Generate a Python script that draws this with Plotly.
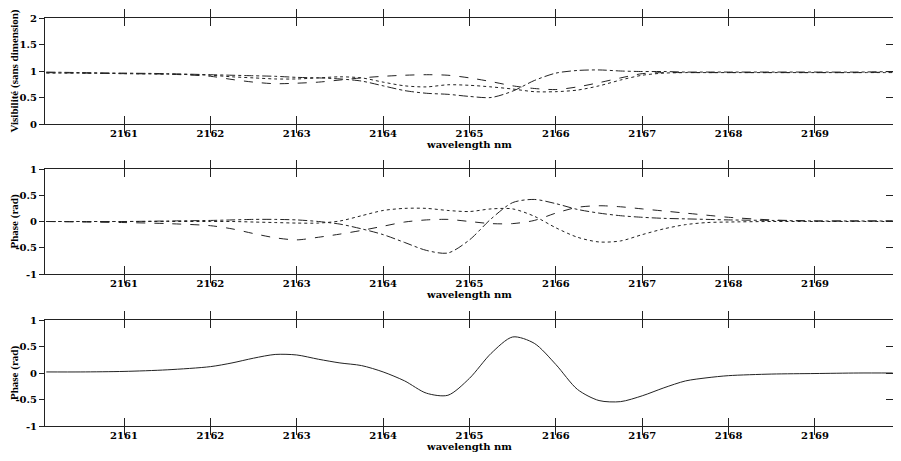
import plotly.graph_objects as go

wavelength = [2160.1, 2160.5, 2161.0, 2161.5, 2162.0, 2162.25, 2162.5, 2162.75, 2163.0, 2163.25,
              2163.5, 2163.75, 2164.0, 2164.25, 2164.5, 2164.75, 2165.0, 2165.25, 2165.5, 2165.75,
              2166.0, 2166.25, 2166.5, 2166.75, 2167.0, 2167.25, 2167.5, 2167.75, 2168.0, 2168.5,
              2169.0, 2169.5, 2169.9]

vis_dashed = [0.97, 0.96, 0.95, 0.94, 0.90, 0.84, 0.79, 0.76, 0.77, 0.79,
              0.83, 0.87, 0.90, 0.92, 0.93, 0.92, 0.87, 0.80, 0.72, 0.67,
              0.65, 0.70, 0.78, 0.87, 0.95, 0.97, 0.97, 0.97, 0.97, 0.97,
              0.97, 0.97, 0.98]
vis_dotted = [0.96, 0.96, 0.95, 0.94, 0.92, 0.89, 0.87, 0.85, 0.85, 0.87,
              0.89, 0.87, 0.79, 0.72, 0.70, 0.74, 0.73, 0.70, 0.66, 0.61,
              0.61, 0.64, 0.72, 0.83, 0.92, 0.96, 0.97, 0.97, 0.97, 0.97,
              0.97, 0.97, 0.97]
vis_dashdot = [0.98, 0.97, 0.96, 0.95, 0.93, 0.92, 0.91, 0.90, 0.88, 0.87,
               0.85, 0.81, 0.72, 0.63, 0.58, 0.56, 0.52, 0.50, 0.62, 0.82,
               0.96, 1.01, 1.02, 1.00, 0.99, 0.99, 0.98, 0.98, 0.98, 0.98,
               0.98, 0.98, 0.99]

ph_dashed = [0.0, -0.01, -0.02, -0.04, -0.08, -0.14, -0.23, -0.31, -0.35, -0.30,
             -0.24, -0.17, -0.09, -0.01, 0.03, 0.04, 0.0, -0.04, -0.04, 0.02,
             0.16, 0.27, 0.30, 0.28, 0.24, 0.20, 0.16, 0.12, 0.08, 0.03,
             0.01, 0.01, 0.01]
ph_dashdot = [0.0, 0.0, 0.0, 0.01, 0.02, 0.03, 0.04, 0.04, 0.03, 0.0,
              -0.05, -0.14, -0.25, -0.40, -0.55, -0.60, -0.35, 0.05, 0.36, 0.42,
              0.34, 0.23, 0.16, 0.11, 0.08, 0.06, 0.05, 0.04, 0.03, 0.02,
              0.01, 0.01, 0.01]
ph_dotted = [0.0, 0.0, 0.0, 0.0, 0.0, 0.0, -0.01, -0.02, -0.03, -0.03,
             0.01, 0.11, 0.21, 0.25, 0.25, 0.21, 0.19, 0.24, 0.24, 0.10,
             -0.12, -0.30, -0.39, -0.37, -0.25, -0.14, -0.06, -0.02, -0.01, 0.0,
             0.0, 0.0, 0.0]

ph_diff = [0.02, 0.02, 0.03, 0.06, 0.12, 0.19, 0.28, 0.35, 0.34, 0.26,
           0.19, 0.14, 0.02, -0.15, -0.38, -0.42, -0.10, 0.37, 0.68, 0.56,
           0.16, -0.31, -0.52, -0.54, -0.43, -0.28, -0.15, -0.09, -0.05, -0.02,
           -0.01, 0.0, 0.0]

x_ticks = [2161, 2162, 2163, 2164, 2165, 2166, 2167, 2168, 2169]
vis_ticks = [0, 0.5, 1, 1.5, 2]
vis_ticktext = ["0", "0.5", "1", "1.5", "2"]
ph_ticks = [-1, -0.5, 0, 0.5, 1]
ph_ticktext = ["-1", "-0.5", "0", "0.5", "1"]

LC = "#222222"
FONT = dict(family="DejaVu Serif", size=10, color="black")
TFONT = dict(family="Liberation Serif", size=11, color="black")

fig = go.Figure()

def add(y, dash, xa, ya):
    fig.add_trace(go.Scatter(x=wavelength, y=y, mode="lines", xaxis=xa, yaxis=ya,
                             line=dict(color=LC, width=1, dash=dash, shape="spline", smoothing=0.8),
                             showlegend=False, hoverinfo="skip"))

add(vis_dashed, "dash", "x", "y")
add(vis_dotted, "dot", "x", "y")
add(vis_dashdot, "dashdot", "x", "y")
add(ph_dashed, "dash", "x2", "y2")
add(ph_dotted, "dot", "x2", "y2")
add(ph_dashdot, "dashdot", "x2", "y2")
add(ph_diff, "solid", "x3", "y3")

# page body has an 8px default margin: the figure is drawn at (8, 8)
OFF = 8
H = 461.0
W = 901.0
xdom = [(45 - OFF) / W, (894 - OFF) / W]
panels = [(18, 124), (169, 274), (320, 426)]
doms = [[1 - (bt - OFF) / H, 1 - (t - OFF) / H] for t, bt in panels]

xr = [2160.085, 2169.915]
layout = dict(width=901, height=461, margin=dict(l=0, r=0, t=0, b=0, autoexpand=False),
              paper_bgcolor="white", plot_bgcolor="white", showlegend=False)

ytitles = ["Visibilité (sans dimension)", "Phase (rad)", "Phase (rad)"]
yranges = [[0, 2], [-1, 1], [-1, 1]]
ytv = [(vis_ticks, vis_ticktext), (ph_ticks, ph_ticktext), (ph_ticks, ph_ticktext)]

def b(s):
    return "<b>" + s + "</b>"

for i in range(3):
    n = "" if i == 0 else str(i + 1)
    layout["xaxis" + n] = dict(domain=xdom, anchor="y" + n, range=xr, tickmode="array",
                               tickvals=x_ticks, ticktext=[b(str(t)) for t in x_ticks],
                               ticks="inside", ticklen=8, tickcolor=LC, mirror="allticks",
                               showline=True, linecolor=LC, linewidth=1, showgrid=False,
                               zeroline=False, tickfont=FONT, automargin=False,
                               title=dict(text=b("wavelength nm"), font=FONT, standoff=0))
    layout["yaxis" + n] = dict(domain=doms[i], anchor="x" + n, range=yranges[i], tickmode="array",
                               tickvals=ytv[i][0], ticktext=[b(t) for t in ytv[i][1]],
                               ticks="outside", ticklen=5, automargin=False,
                               tickcolor=LC, mirror=True, showline=True, linecolor=LC, linewidth=1,
                               showgrid=False, zeroline=False, tickfont=FONT,
                               title=dict(text=b(ytitles[i]), font=TFONT, standoff=4))
    m = str(i + 4)
    layout["yaxis" + m] = dict(overlaying="y" + n, anchor="x" + n, side="right", range=yranges[i],
                               tickmode="array", tickvals=ytv[i][0], ticks="inside", ticklen=8,
                               tickcolor=LC, showticklabels=False, showline=False, automargin=False,
                               showgrid=False, zeroline=False)
    fig.add_trace(go.Scatter(x=[None], y=[None], xaxis="x" + n, yaxis="y" + m,
                             showlegend=False, hoverinfo="skip"))

fig.update_layout(**layout)
fig.write_html("out.html")
